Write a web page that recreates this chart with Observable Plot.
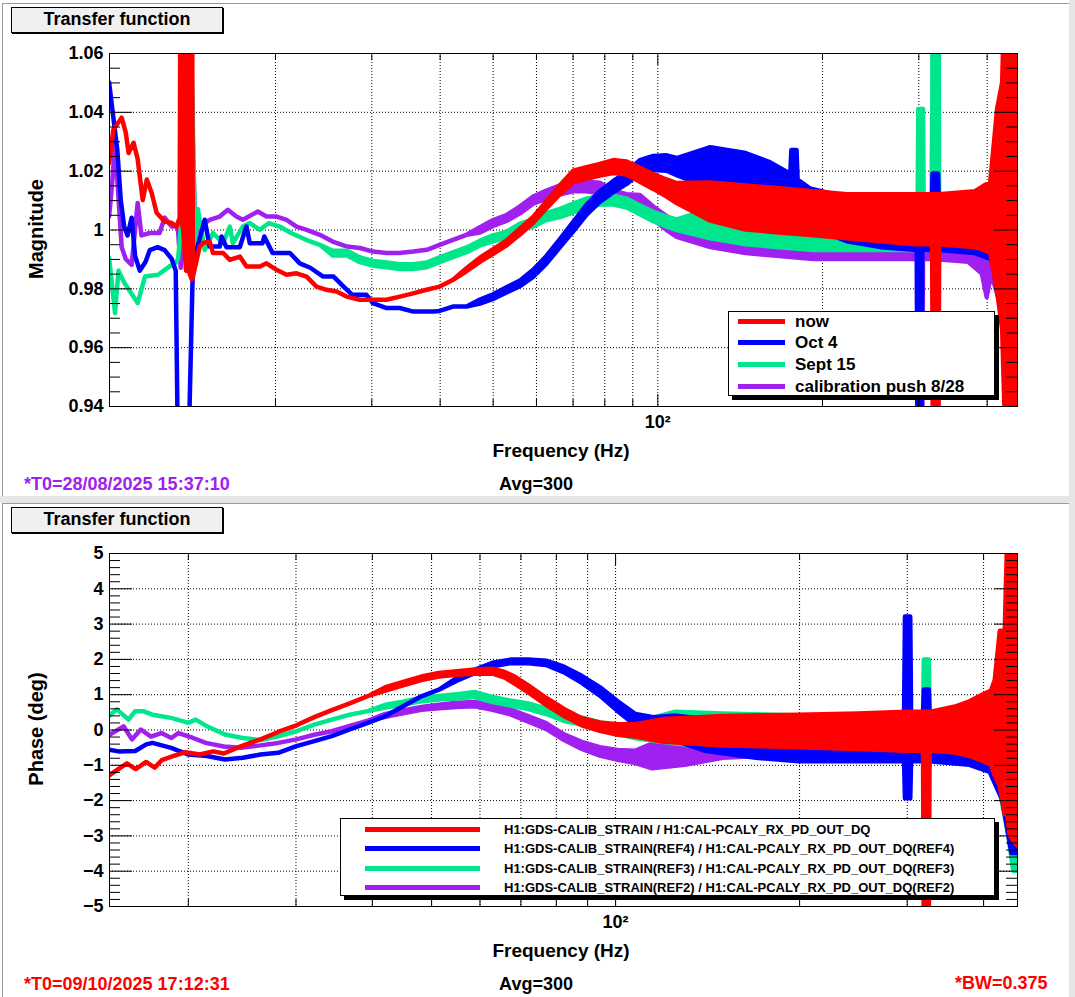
<!DOCTYPE html>
<html>
<head>
<meta charset="utf-8">
<script src="https://cdn.jsdelivr.net/npm/d3@7"></script>
<script src="https://cdn.jsdelivr.net/npm/@observablehq/plot@0.6"></script>
<style>
  html, body { margin: 0; padding: 0; }
  body { width: 1075px; height: 997px; position: relative; overflow: hidden; background: #fff;
         font-family: "Liberation Sans", Arial, Helvetica, sans-serif; font-weight: bold; color: #000; }
  .abs { position: absolute; }
  .txt { position: absolute; white-space: nowrap; line-height: 1; }
  .titlebox { position: absolute; background: #f0f0f0; border: 1px solid #000; box-shadow: 1px 1px 0 #000;
              text-align: center; font-size: 18px; line-height: 22px; box-sizing: border-box; }
  .legend { position: absolute; background: #fff; border: 1px solid #000; box-shadow: 4px 4px 0 #000; box-sizing: border-box; }
  .chart { position: absolute; left: 0; }
</style>
</head>
<body>
<script>
// ---------------- DATA ----------------
const xGridHz = [20, 30, 40, 50, 60, 70, 80, 90, 100, 200, 300, 400];
const magMajorTicks = [0.94, 0.96, 0.98, 1.0, 1.02, 1.04, 1.06];
const phaseMajorTicks = [-5, -4, -3, -2, -1, 0, 1, 2, 3, 4, 5];
const legendTop = ["now", "Oct 4", "Sept 15", "calibration push 8/28"];
const legendBottom = [
  "H1:GDS-CALIB_STRAIN / H1:CAL-PCALY_RX_PD_OUT_DQ",
  "H1:GDS-CALIB_STRAIN(REF4) / H1:CAL-PCALY_RX_PD_OUT_DQ(REF4)",
  "H1:GDS-CALIB_STRAIN(REF3) / H1:CAL-PCALY_RX_PD_OUT_DQ(REF3)",
  "H1:GDS-CALIB_STRAIN(REF2) / H1:CAL-PCALY_RX_PD_OUT_DQ(REF2)"
];
const seriesColors = ["#ff0000", "#0000ff", "#00e68c", "#a020f0"];

// [frequency Hz, value] or [frequency Hz, low, high] (noise envelope)
const magNow = [
[9.95,1.0225],[10.13,1.034],[10.49,1.038],[10.67,1.033],[10.80,1.026],[11.03,1.0295],[11.22,1.024],[11.46,1.010],[11.66,1.017],[11.90,1.0125],[12.15,1.0057],[12.57,1.0027],[12.95,1.0022],[13.22,1.001],[13.39,1.004],
[13.45,1.004,1.12],[13.59,1.0,1.12],[13.75,0.986,0.99],[13.91,0.986,1.12],[14.09,0.983,1.12],
[14.16,0.984],[14.57,0.9942],[14.77,0.9954],[15.19,0.9959],[15.41,0.992],[16.08,0.992],[16.54,0.9897],[17.25,0.9908],[17.74,0.9874],[18.77,0.9874],[19.30,0.9885],[20.13,0.9863],[21.0,0.9846],[21.9,0.9851],[22.85,0.984],[23.82,0.9806],[24.85,0.9795],[25.92,0.9789],[27.03,0.9772],[28.58,0.9761],[30.23,0.9761],[31.98,0.9761],[33.83,0.9772],[35.77,0.9783],[37.84,0.9795],[40.02,0.9806],[42.33,0.9829],[44.78,0.9858,0.9868],[47.38,0.9890,0.9904],[50.11,0.9917,0.9933],[53.0,0.9946,0.9962],[56.07,0.9983,1.0003],[59.29,1.0023,1.0043],[62.72,1.0072,1.0096],[66.37,1.0120,1.0150],[70.19,1.0160,1.0200],[74.24,1.0172,1.0212],[78.53,1.0183,1.0223],[83.06,1.0192,1.0236],[87.88,1.0187,1.0231],[92.94,1.0162,1.0210],[98.29,1.0138,1.0188],[103.99,1.0112,1.0170],[108.47,1.0090,1.0158],
[125,1.003,1.016],[145,1.000,1.015],[167,0.999,1.014],[193,0.998,1.013],[222,0.997,1.012],[256,0.996,1.012],[296,0.995,1.012],[318,0.995,1.012],[319,0.92,1.012],[326.5,0.92,1.012],[327.5,0.995,1.012],[381,0.994,1.013],[396,0.993,1.015],[406,0.992,1.016],[418,0.979,1.041],[427,0.966,1.05],[434,0.92,1.10],[455,0.92,1.10]
];
const magOct4 = [
[9.95,1.050],[10.13,1.038],[10.30,1.027],[10.45,1.010],[10.60,1.001],[10.75,0.998],[10.94,1.004],[11.10,0.991],[11.32,0.986],[11.60,0.989],[11.81,0.993],[12.20,0.994],[12.57,0.993],[12.95,0.990],[13.17,0.986],[13.34,0.90],[13.80,0.90],[14.16,0.9886],[14.57,0.997],[14.88,1.0033],[15.19,0.9942],[15.85,0.9942],[15.97,0.9976],[16.3,0.994],[17.25,0.994],[17.65,0.9999],[17.74,1.001],[17.99,0.9953],[18.97,0.9953],[19.12,0.9976],[19.8,0.992],[21.3,0.992],[22.2,0.9885],[23.2,0.987],[24.5,0.984],[25.6,0.984],[26.7,0.9806],[27.7,0.9778],[29.4,0.9778],[30.2,0.975],[32.0,0.9733],[33.8,0.9733],[35.8,0.9721],[39.0,0.9721],[40.0,0.9723],[42.3,0.9738],[44.8,0.9738],[47.4,0.9748,0.9762],[50.1,0.9764,0.978],[53.0,0.9786,0.9804],[56.1,0.9807,0.9827],[59.3,0.9839,0.9863],[62.7,0.9884,0.991],[66.4,0.994,0.9968],[70.2,0.9994,1.0026],[74.2,1.005,1.0084],[78.5,1.0094,1.013],[83.1,1.0127,1.0165],[87.9,1.0155,1.0195],[92.9,1.0192,1.0236],[98.3,1.0202,1.025],[104,1.0200,1.0252],[108.5,1.0185,1.0243],
[125,1.014,1.028],[145,1.011,1.026],[160,1.008,1.023],[175,1.005,1.019],[175.8,1.005,1.027],[179.7,1.005,1.027],[180.5,1.004,1.017],[190,1.001,1.014],[222,0.996,1.011],[256,0.994,1.009],[298,0.993,1.008],[299,0.92,1.008],[304,0.92,1.008],[305,0.993,1.008],[317.5,0.993,1.008],[318.5,0.993,1.019],[326,0.993,1.019],[327,0.993,1.008],[381,0.992,1.009],[406,0.990,1.010],[420,0.985,1.02],[430,0.975,1.03],[438,0.954,1.10],[455,0.954,1.10]
];
const magSept15 = [
[9.95,0.9903],[10.2,0.9716],[10.35,0.986],[10.6,0.982],[11.22,0.975],[11.57,0.984],[12.23,0.9846],[12.82,0.9874],[13.15,0.9886],[13.3,0.990],[13.45,1.0],[13.7,1.10],[13.85,0.99],[14.1,1.05],[14.3,0.995],[14.45,1.007],[14.88,0.993],[15.41,0.9988],[16.08,0.9954],[16.54,1.001],[16.75,0.9954],[17.47,1.001],[17.99,1.0022],[18.77,0.9999],[19.5,1.0022],[20.4,1.001],[21.4,0.9988],[22.8,0.9965],[24.15,0.9948],[25.5,0.9912,0.9928],[27.1,0.9912,0.9928],[28.6,0.9889,0.9905],[30.2,0.9877,0.9893],[32.0,0.9872,0.9888],[33.8,0.9866,0.9882],[35.8,0.9866,0.9882],[37.9,0.9872,0.9888],[40.0,0.9889,0.9905],[42.3,0.9906,0.9922],[44.8,0.9923,0.9939],[47.4,0.9946,0.9962],[50.1,0.996,0.998],[53.0,0.9972,0.9992],[56.1,1.0,1.002],[59.3,1.001,1.0034],[62.7,1.0032,1.0056],[66.4,1.0042,1.007],[70.2,1.0058,1.0088],[74.2,1.0075,1.0105],[78.5,1.0085,1.0115],[83.1,1.0085,1.0115],[87.9,1.0075,1.0105],[92.9,1.0052,1.0082],[98.3,1.0028,1.006],[104,1.001,1.0044],[108.5,0.9998,1.0034],
[125,0.997,1.007],[145,0.995,1.006],[167,0.994,1.005],[193,0.993,1.004],[299,0.993,1.004],[300,0.993,1.041],[306,0.993,1.041],[307,0.993,1.004],[318,0.993,1.004],[318.6,0.993,1.10],[326.8,0.993,1.10],[327.5,0.993,1.004],[400,0.992,1.005],[420,0.985,1.015],[432,0.97,1.052],[440,0.92,1.052],[455,0.92,1.052]
];
const magAug28 = [
[9.95,1.0044],[10.07,1.015],[10.2,1.029],[10.49,0.994],[10.67,0.990],[10.94,0.988],[11.22,1.009],[11.4,0.998],[11.81,0.9988],[12.3,0.9988],[12.57,1.004],[12.95,1.001],[13.28,1.001],[13.45,0.987],[13.7,1.10],[13.85,0.99],[14.1,1.042],[14.3,0.998],[14.57,1.001],[15.19,1.0033],[15.85,1.0044],[16.4,1.0067],[17.0,1.0044],[17.47,1.0033],[18.6,1.0061],[19.3,1.0044],[20.15,1.0044],[21.0,1.0033],[21.9,1.001],[22.85,0.9999],[24.15,0.9982],[25.5,0.9959],[27.1,0.9942],[28.6,0.9937],[30.2,0.9925],[32.0,0.992],[33.8,0.992],[35.8,0.9925],[37.9,0.9931],[40.0,0.9948],[42.3,0.9965],[44.8,0.9982],[47.4,0.999,1.0008],[50.1,1.0012,1.0032],[53.0,1.0029,1.0049],[56.1,1.0055,1.0079],[59.3,1.0088,1.0112],[62.7,1.0104,1.0132],[66.4,1.012,1.015],[70.2,1.013,1.0162],[74.2,1.013,1.0162],[78.5,1.0123,1.0159],[83.1,1.0092,1.0132],[87.9,1.008,1.012],[92.9,1.0073,1.0117],[98.3,1.0034,1.0078],[104,0.9998,1.0046],[108.5,0.9975,1.0023],
[125,0.994,1.004],[145,0.992,1.003],[167,0.991,1.002],[193,0.990,1.002],[300,0.990,1.002],[301,0.92,1.002],[305,0.92,1.002],[306,0.990,1.002],[317.5,0.990,1.002],[318,0.990,1.038],[319.5,0.990,1.038],[320,0.990,1.002],[370,0.989,1.003],[392,0.985,1.004],[400,0.977,1.004],[408,0.985,1.005],[430,0.970,1.020],[455,0.950,1.030]
];

const phNow = [
[14.87,-1.30],[15.3,-1.15],[15.9,-0.96],[16.43,-1.12],[17.09,-0.92],[17.65,-1.08],[18.12,-0.87],[18.81,-0.77],[19.83,-0.64],[20.91,-0.71],[22.0,-0.62],[22.9,-0.68],[24.4,-0.48],[26.3,-0.28],[28.1,-0.07],[30.1,0.12],[32.2,0.35],[34.4,0.55],[36.8,0.74],[39.7,0.97],[42.1,1.10,1.2],[45.0,1.25,1.35],[48.2,1.40,1.50],[51.5,1.50,1.60],[55.1,1.55,1.65],[59.0,1.58,1.70],[63.0,1.58,1.72],[66.0,1.47,1.63],[68.5,1.30,1.50],[72.1,1.05,1.25],[77.1,0.70,0.90],[82.5,0.38,0.58],[88.2,0.12,0.32],[94.4,-0.04,0.2],[101,-0.15,0.15],
[108,-0.2,0.15],[120,-0.35,0.3],[150,-0.45,0.38],[200,-0.5,0.42],[250,-0.55,0.45],[300,-0.6,0.5],[319,-0.6,0.5],[319.8,-5.5,0.5],[326,-5.5,0.5],[327,-0.6,0.5],[360,-0.65,0.65],[380,-0.75,0.8],[400,-0.9,1.0],[412,-1.0,1.1],[418,-1.3,1.4],[426,-1.6,2.8],[434,-2.4,2.8],[438,-2.4,5.5],[442,-3.0,5.5],[455,-3.3,5.5]
];
const phOct4 = [
[14.87,-0.57],[15.4,-0.62],[16.4,-0.61],[17.1,-0.42],[17.5,-0.38],[18.78,-0.52],[20.05,-0.71],[21.5,-0.75],[23.0,-0.85],[24.6,-0.80],[26.3,-0.71],[28.1,-0.66],[30.1,-0.47],[32.2,-0.33],[34.4,-0.19],[36.8,0.0],[39.4,0.19],[42.1,0.38],[45.0,0.66],[48.2,0.94],[51.5,1.13],[55.1,1.38,1.46],[59.0,1.60,1.70],[63.0,1.79,1.89],[67.4,1.88,1.98],[72.1,1.88,1.98],[77.1,1.83,1.95],[82.5,1.62,1.78],[88.2,1.32,1.52],[94.4,0.96,1.2],[101,0.52,0.8],[108,0.12,0.44],[115.5,-0.05,0.35],
[125,-0.3,0.4],[140,-0.6,0.3],[170,-0.8,0.3],[200,-0.9,0.35],[250,-0.9,0.4],[297,-0.9,0.4],[298,-1.95,3.2],[304,-1.95,3.2],[305,-0.9,0.4],[319,-0.9,0.4],[320,-0.9,1.13],[326,-0.9,1.13],[327,-0.9,0.4],[380,-1.0,0.5],[410,-1.2,0.8],[430,-2.0,1.5],[445,-3.5,3.0],[455,-3.5,5.0]
];
const phSept15 = [
[14.86,0.38],[15.3,0.57],[16.0,0.28],[16.4,0.52],[16.9,0.52],[17.5,0.42],[18.78,0.33],[20.05,0.19],[20.6,0.28],[21.5,0.09],[23.0,-0.14],[24.6,-0.24],[26.3,-0.30],[28.1,-0.19],[30.1,-0.05],[32.2,0.14],[34.4,0.28],[36.8,0.42],[39.4,0.52],[42.1,0.62,0.70],[45.0,0.71,0.79],[48.2,0.80,0.90],[51.5,0.85,0.95],[55.1,0.88,1.0],[59.0,0.92,1.06],[63.0,0.78,0.92],[67.4,0.68,0.82],[72.1,0.58,0.74],[77.1,0.44,0.6],[82.5,0.24,0.42],[88.2,0.14,0.34],[94.4,-0.02,0.2],[101,-0.12,0.12],[108,-0.25,0.2],
[125,-0.4,0.5],[150,-0.5,0.45],[200,-0.55,0.4],[300,-0.6,0.45],[319,-0.6,0.45],[320,-0.6,1.98],[326,-0.6,1.98],[327,-0.6,0.45],[380,-0.7,0.6],[420,-1.2,1.2],[440,-3.0,2.5],[448,-4.0,2.0],[455,-4.0,2.0]
];
const phAug28 = [
[14.86,-0.16],[15.7,0.09],[16.2,-0.28],[16.75,0.0],[17.4,-0.2],[18.1,-0.1],[18.8,-0.24],[19.3,-0.1],[20.4,-0.24],[21.4,-0.38],[22.9,-0.48],[24.4,-0.52],[26.3,-0.45],[28.1,-0.38],[30.1,-0.28],[32.2,-0.15],[34.4,-0.05],[36.8,0.10],[39.4,0.25],[42.1,0.36,0.44],[45.0,0.46,0.54],[48.2,0.56,0.64],[51.5,0.6,0.7],[55.1,0.64,0.76],[59.0,0.66,0.78],[63.0,0.56,0.68],[67.4,0.43,0.57],[72.1,0.22,0.38],[77.1,0.02,0.18],[82.5,-0.3,-0.14],[88.2,-0.55,-0.35],[94.4,-0.74,-0.5],[101,-0.86,-0.58],[108,-0.95,-0.6],
[115,-1.1,-0.4],[130,-1.0,-0.2],[150,-0.8,0.0],[200,-0.7,0.3],[300,-0.7,0.4],[380,-0.8,0.5],[420,-1.2,1.0],[440,-2.0,3.0],[445,-2.5,4.8],[455,-2.5,4.8]
];

// ---------------- LAYOUT HELPERS ----------------
const body = document.body;
function box(x, y, w, h, bg) {
  const d = document.createElement("div");
  d.className = "abs";
  d.style.cssText += `left:${x}px;top:${y}px;width:${w}px;height:${h}px;background:${bg};`;
  body.appendChild(d); return d;
}
function text(parent, t, x, baseline, size, opts = {}) {
  const d = document.createElement("div");
  d.className = "txt";
  d.textContent = t;
  d.style.fontSize = size + "px";
  d.style.top = (baseline - 0.8465 * size) + "px";
  d.style.color = opts.color || "#000";
  if (opts.anchor === "middle") { d.style.left = x + "px"; d.style.transform = "translateX(-50%)"; }
  else if (opts.anchor === "end") { d.style.right = (1075 - x) + "px"; }
  else d.style.left = x + "px";
  d.style.zIndex = 5;
  parent.appendChild(d); return d;
}
function vtext(t, cx, cy, size) {
  const d = document.createElement("div");
  d.className = "txt";
  d.textContent = t;
  d.style.cssText += `font-size:${size}px;left:${cx}px;top:${cy}px;transform:translate(-50%,-50%) rotate(-90deg);z-index:5;`;
  body.appendChild(d);
}

// background / pad frames
box(1069, 0, 6, 997, "#e6e6e6");
box(0, 496, 1069, 7, "#e6e6e6");
box(2, 3, 1067, 1, "#9a9a9a"); box(2, 3, 1, 493, "#9a9a9a");
box(2, 503, 1067, 1, "#9a9a9a"); box(2, 503, 1, 494, "#9a9a9a");

// ---------------- PLOTS ----------------
const W = 1069, H = 493, ML = 109, MR = 52, MT = 53, MB = 87;
const PW = W - ML - MR, PH = H - MT - MB;
const toRows = arr => arr.map(d => ({f: d[0], lo: d[1], hi: d.length > 2 ? d[2] : d[1]}));

function panel({series, xDomain, yDomain, yMajor, yMinor, yFmt}) {
  const inner = yMajor.slice(1, -1);
  const xMinor = xGridHz.filter(v => v !== 100);
  const marks = [
    Plot.gridX(xGridHz, {stroke: "#000", strokeOpacity: 1, strokeWidth: 1, strokeDasharray: "1,2"}),
    Plot.gridY(inner, {stroke: "#000", strokeOpacity: 1, strokeWidth: 1, strokeDasharray: "1,2"})
  ];
  // draw order: REF2 (purple), REF3 (green), REF4 (blue), now (red)
  for (let i = series.length - 1; i >= 0; i--) {
    marks.push(Plot.areaY(toRows(series[i]), {
      x: "f", y1: "lo", y2: "hi", fill: seriesColors[i], stroke: seriesColors[i],
      strokeWidth: 4.5, strokeLinejoin: "round", clip: true
    }));
  }
  marks.push(
    Plot.frame({stroke: "#000", strokeWidth: 1}),
    Plot.tickY(yMajor, {y: d => d, insetRight: PW - 23, stroke: "#000"}),
    Plot.tickY(yMinor, {y: d => d, insetRight: PW - 11, stroke: "#000"}),
    Plot.tickY(yMajor, {y: d => d, insetLeft: PW - 23, stroke: "#000"}),
    Plot.tickY(yMinor, {y: d => d, insetLeft: PW - 11, stroke: "#000"}),
    Plot.tickX(xMinor, {x: d => d, insetTop: PH - 7, stroke: "#000"}),
    Plot.tickX(xMinor, {x: d => d, insetBottom: PH - 7, stroke: "#000"}),
    Plot.tickX([100], {x: d => d, insetTop: PH - 12, stroke: "#000"}),
    Plot.tickX([100], {x: d => d, insetBottom: PH - 12, stroke: "#000"}),
    Plot.axisY(yMajor, {anchor: "left", tickSize: 0, tickPadding: 6, tickFormat: yFmt, label: null, fontSize: 18, fontWeight: "bold"}),
    Plot.axisX([100], {anchor: "bottom", tickSize: 0, tickPadding: 9, tickFormat: () => "10²", label: null, fontSize: 18, fontWeight: "bold"})
  );
  return Plot.plot({
    width: W, height: H, marginLeft: ML, marginRight: MR, marginTop: MT, marginBottom: MB,
    x: {type: "log", domain: xDomain},
    y: {domain: yDomain},
    style: {background: "transparent", fontFamily: "'Liberation Sans', Arial, Helvetica, sans-serif", fontWeight: "bold", fontSize: "18px", overflow: "visible", color: "#000"},
    marks
  });
}

const magMinor = d3.range(0, 25).filter(i => i % 4 !== 0).map(i => +(0.94 + i * 0.005).toFixed(3));
const phMinor = d3.range(-25, 26).filter(i => i % 5 !== 0).map(i => i / 5);

const topPlot = panel({
  series: [magNow, magOct4, magSept15, magAug28],
  xDomain: [9.945, 454.5], yDomain: [0.94, 1.06],
  yMajor: magMajorTicks, yMinor: magMinor,
  yFmt: d => (d === 1 ? "1" : d.toFixed(2))
});
const botPlot = panel({
  series: [phNow, phOct4, phSept15, phAug28],
  xDomain: [14.86, 454.5], yDomain: [-5, 5],
  yMajor: phaseMajorTicks, yMinor: phMinor,
  yFmt: d => (d < 0 ? "\u2212" + Math.abs(d) : String(d))
});
const c1 = document.createElement("div"); c1.className = "chart"; c1.style.top = "0px"; c1.appendChild(topPlot); body.appendChild(c1);
const c2 = document.createElement("div"); c2.className = "chart"; c2.style.top = "500px"; c2.appendChild(botPlot); body.appendChild(c2);

// ---------------- ANNOTATIONS ----------------
for (const oy of [0, 500]) {
  const tb = document.createElement("div");
  tb.className = "titlebox";
  tb.style.cssText += `left:11px;top:${7 + oy}px;width:212px;height:26px;z-index:6;`;
  tb.textContent = "Transfer function";
  body.appendChild(tb);
  text(body, "Frequency (Hz)", 561, 457 + oy, 19, {anchor: "middle"});
  text(body, "Avg=300", 536, 490 + oy, 18, {anchor: "middle"});
}
vtext("Magnitude", 36, 228.5, 20);
vtext("Phase (deg)", 36, 728.5, 20);
text(body, "*T0=28/08/2025 15:37:10", 24, 490, 18, {color: "#a020f0"});
text(body, "*T0=09/10/2025 17:12:31", 24, 990, 18, {color: "#ff0000"});
text(body, "*BW=0.375", 1047.5, 989.5, 18, {color: "#ff0000", anchor: "end"});

// legends
function legend(labels, x, y, w, h, rows, lineX0, lineX1, textX, size) {
  const lg = document.createElement("div");
  lg.className = "legend";
  lg.style.cssText += `left:${x}px;top:${y}px;width:${w}px;height:${h}px;z-index:7;`;
  labels.forEach((lab, i) => {
    const ln = document.createElement("div");
    ln.className = "abs";
    ln.style.cssText += `left:${lineX0 - x}px;top:${rows[i] - y - 2.5}px;width:${lineX1 - lineX0}px;height:5px;background:${seriesColors[i]};`;
    lg.appendChild(ln);
    const t = document.createElement("div");
    t.className = "txt";
    t.textContent = lab;
    t.style.fontSize = size + "px";
    t.style.left = (textX - x) + "px";
    t.style.top = (rows[i] - y + 0.358 * size - 0.8465 * size) + "px";
    lg.appendChild(t);
  });
  body.appendChild(lg);
}
legend(legendTop, 728, 311, 267, 85, [320, 341.7, 363.3, 385], 737, 784, 794, 17);
legend(legendBottom, 340, 818, 655, 78, [828, 847, 867, 886], 364, 479, 503, 13);
</script>
</body>
</html>
